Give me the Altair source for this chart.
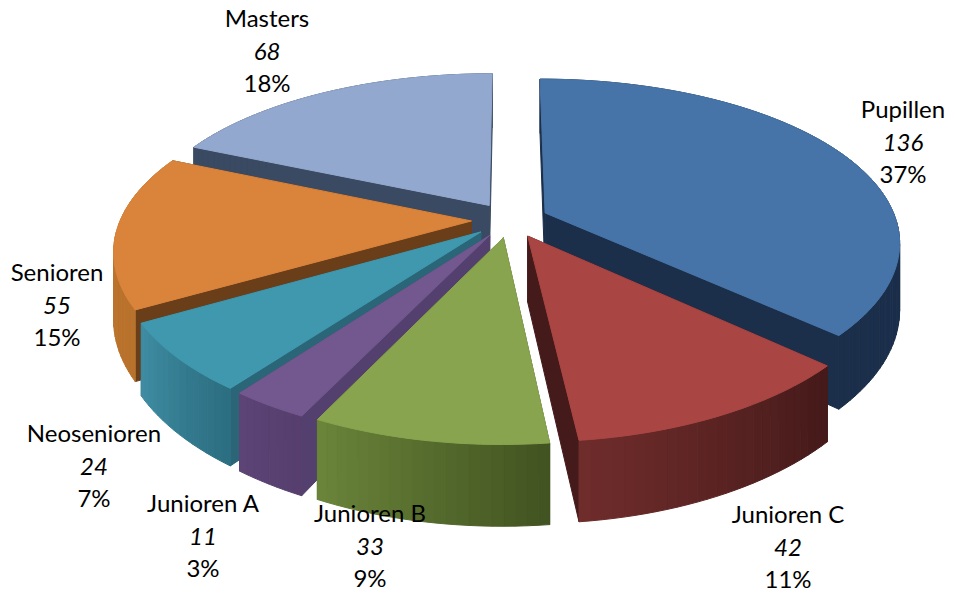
import math
import altair as alt

names = ["Pupillen", "Junioren C", "Junioren B", "Junioren A", "Neosenioren", "Senioren", "Masters"]
counts = [136, 42, 33, 11, 24, 55, 68]
percents = ["37%", "11%", "9%", "3%", "7%", "15%", "18%"]
top_colors = ["#4674A8", "#A94543", "#88A44E", "#72588F", "#4098AF", "#DA833B", "#92A8CF"]
edge_colors = ["#1B2F4B", "#451A1A", "#3F5222", "#54406E", "#2A6677", "#6B3E1A", "#3A4A62"]
rim_start = ["#1B2F4B", "#6E2C2B", "#6A843A", "#5C4576", "#3F8CA2", "#C97A33", "#3A4A62"]
rim_end = ["#1B2F4B", "#451A1A", "#425421", "#563F6E", "#2D6F82", "#B8722C", "#3A4A62"]

# layout of the label blocks: centre x, first line y (page pixels)
label_x = [903, 788, 370, 203, 94, 57, 267]
label_y = [111, 516, 515, 505, 435, 274, 20]
LINE = 32.5

CX, CY, A, B, KX, KY, EXPL, H = 510, 220, 351, 161, 0.17, 0.185, 0.11, 65
OFF = 8
W, HT = 939, 586


def project(u, v):
    sy = 1 / (1 - KY * v)
    sx = 1 / (1 - KX * v)
    return CX + A * u * sx - OFF, CY + B * v * sy - OFF, sy


def hex_mix(c1, c2, t):
    a = [int(c1[i:i + 2], 16) for i in (1, 3, 5)]
    b = [int(c2[i:i + 2], 16) for i in (1, 3, 5)]
    return "#%02x%02x%02x" % tuple(round(p + (q - p) * t) for p, q in zip(a, b))


def feature(points, fill):
    ring = [[round(x, 2), round(y, 2)] for x, y in points]
    ring.append(ring[0])
    return {"type": "Feature", "properties": {"fill": fill},
            "geometry": {"type": "Polygon", "coordinates": [ring]}}


total = sum(counts)
slices = []
start = 0.0
for i, c in enumerate(counts):
    sweep = 2 * math.pi * c / total
    slices.append((i, start, sweep))
    start += sweep


def mid_v(s):
    return -math.cos(s[1] + s[2] / 2)


features = []
for i, th0, sweep in sorted(slices, key=mid_v):
    mid = th0 + sweep / 2
    du, dv = EXPL * math.sin(mid), -EXPL * math.cos(mid)
    steps = max(8, int(sweep / math.radians(1.5)))
    rim = []
    for n in range(steps + 1):
        th = th0 + sweep * n / steps
        rim.append(project(du + math.sin(th), dv - math.cos(th)))
    ax, ay, asc = project(du, dv)
    # radial walls
    for p in (rim[0], rim[-1]):
        features.append(feature([(ax, ay), (p[0], p[1]), (p[0], p[1] + H * p[2]), (ax, ay + H * asc)],
                                edge_colors[i]))
    # rim wall, back to front
    segs = list(range(steps))
    segs.sort(key=lambda n: rim[n][1])
    for n in segs:
        p, q = rim[n], rim[n + 1]
        t = n / max(1, steps - 1)
        features.append(feature([(p[0], p[1]), (q[0], q[1]), (q[0], q[1] + H * q[2]), (p[0], p[1] + H * p[2])],
                                hex_mix(rim_end[i], rim_start[i], t)))
    features.append(feature([(ax, ay)] + [(p[0], p[1]) for p in rim], top_colors[i]))

shapes = alt.Chart(alt.Data(values=features)).mark_geoshape(strokeWidth=1).encode(
    fill=alt.Fill("properties.fill:N", scale=None),
    stroke=alt.Stroke("properties.fill:N", scale=None),
).project(type="identity", scale=1, translate=[0, 0])

rows = []
for n, c, p, lx, ly in zip(names, counts, percents, label_x, label_y):
    rows.append({"t": n, "s": "normal", "px": lx - OFF, "py": ly - OFF})
    rows.append({"t": str(c), "s": "italic", "px": lx - OFF, "py": ly - OFF + LINE})
    rows.append({"t": p, "s": "normal", "px": lx - OFF, "py": ly - OFF + 2 * LINE})

x_sc = alt.Scale(domain=[0, W], range=[0, W])
y_sc = alt.Scale(domain=[0, HT], range=[0, HT])


def text_layer(style):
    return alt.Chart(alt.Data(values=[r for r in rows if r["s"] == style])).mark_text(
        font="Lato", fontSize=24, fontStyle=style, color="#000000", align="center", baseline="middle"
    ).encode(
        x=alt.X("px:Q", scale=x_sc, axis=None),
        y=alt.Y("py:Q", scale=y_sc, axis=None),
        text="t:N",
    )


chart = alt.layer(shapes, text_layer("normal"), text_layer("italic")).resolve_scale(
    x="independent", y="independent"
).properties(width=W, height=HT, background="white", padding=0, autosize=alt.AutoSizeParams(type="none")
).configure_view(stroke=None)

chart.save("out.html", embed_options={"renderer": "svg", "actions": False})
